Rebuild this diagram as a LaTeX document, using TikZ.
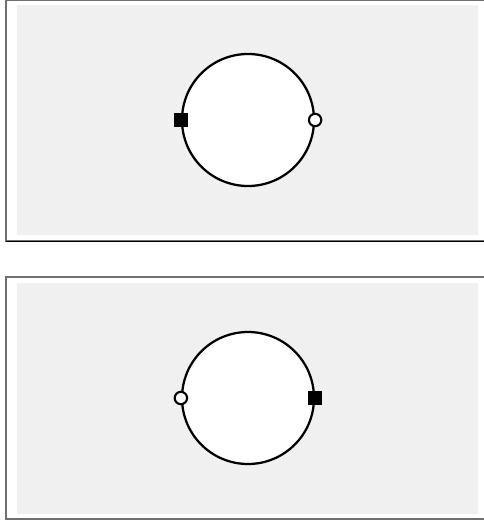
\documentclass[tikz,border=0pt]{standalone}
\usepackage{tikz}
\usepackage{xcolor}
\usetikzlibrary{positioning}

\definecolor{panelbg}{HTML}{F0F0F0}
\definecolor{framegray}{HTML}{707070}

\tikzset{
    ring/.style={draw, circle, fill=white, line width=3.2pt, minimum size=6.6cm, inner sep=0pt},
    solidpin/.style={draw=none, rectangle, fill=black, minimum size=0.72cm, inner sep=0pt},
    openpin/.style={draw, circle, fill=white, line width=3pt, minimum size=0.62cm, inner sep=0pt}
}

\begin{document}
\begin{tikzpicture}[x=0.05cm, y=-0.05cm]
    \useasboundingbox (0,0) rectangle (483,521);

    % Upper panel
    \draw[framegray, line width=2pt] (6,0) rectangle (490,241);
    \draw[black, line width=1.4pt] (6,241) -- (490,241);
    \fill[panelbg] (17,5) rectangle (478,235);

    % Lower panel
    \draw[framegray, line width=2pt] (6,277) rectangle (490,519);
    \fill[panelbg] (17,283) rectangle (478,514);

    % Rings
    \node[ring] (upperring) at (248,120) {};
    \node[ring] (lowerring) at (248,398) {};

    % Pins on the rings
    \node[solidpin] (upperleft) at (upperring.west) {};
    \node[openpin] (upperright) at (upperring.east) {};
    \node[openpin] (lowerleft) at (lowerring.west) {};
    \node[solidpin] (lowerright) at (lowerring.east) {};
\end{tikzpicture}
\end{document}
